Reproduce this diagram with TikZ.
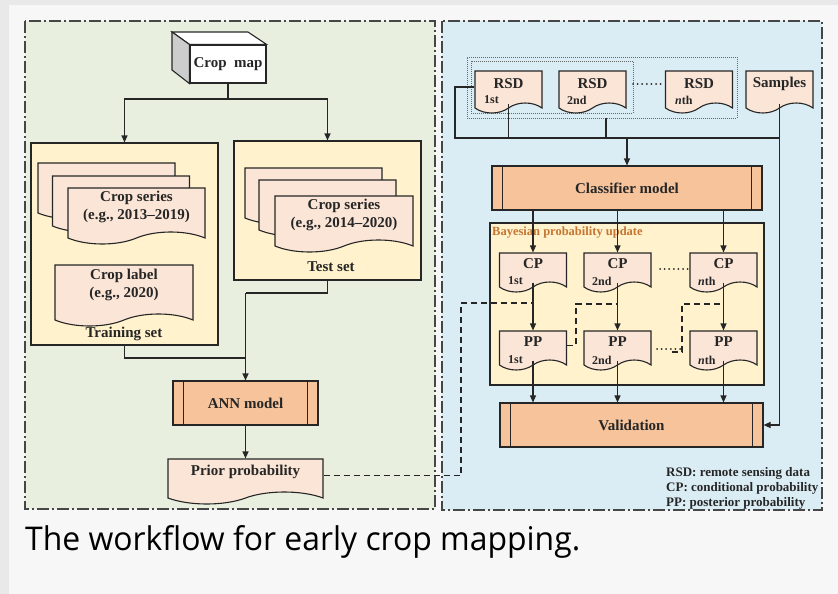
\documentclass[tikz,border=0pt]{standalone}
\usepackage{fontspec}
\usepackage{graphicx}
\setmainfont{Liberation Serif}
\newfontfamily\capfont{Open Sans}
\usetikzlibrary{arrows.meta,shapes.symbols,calc}

\definecolor{pagegray}{RGB}{233,233,233}
\definecolor{cardgray}{RGB}{247,247,247}
\definecolor{greenbg}{RGB}{233,239,223}
\definecolor{bluebg}{RGB}{219,237,244}
\definecolor{setfill}{RGB}{255,242,204}
\definecolor{docfill}{RGB}{251,229,214}
\definecolor{modelfill}{RGB}{246,195,155}
\definecolor{ink}{RGB}{38,38,38}
\definecolor{framegray}{RGB}{70,70,70}
\definecolor{bayescol}{RGB}{196,118,50}
\definecolor{sidegray}{RGB}{205,205,205}

\tikzset{
  every node/.style={font=\bfseries\fontsize{15}{18}\selectfont, text=ink},
  panel/.style={draw=framegray, line width=1.8pt, dash pattern=on 12pt off 3pt on 2pt off 3pt},
  setbox/.style={draw=ink, line width=1.1pt, fill=setfill},
  doc/.style={shape=tape, tape bend top=none, tape bend bottom=in and out,
    tape bend height=12pt, draw=ink, line width=1.1pt, fill=docfill, inner sep=2pt},
  smalldoc/.style={doc, minimum width=67pt, minimum height=42pt, tape bend height=10pt},
  probdoc/.style={doc, minimum width=67pt, minimum height=39pt, tape bend height=10pt, text depth=8pt},
  model/.style={draw=ink, line width=1.1pt, fill=modelfill, minimum height=44pt},
  wire/.style={draw=ink, line width=1.1pt},
  arr/.style={wire, -{Triangle[length=7pt,width=6pt]}},
  dashwire/.style={draw=ink, line width=1.1pt, dash pattern=on 6pt off 4pt},
  dotbox/.style={draw=ink!70, line width=0.8pt, dash pattern=on 1pt off 1pt},
  dotrow/.style={draw=ink, line width=2pt, line cap=round, dash pattern=on 0pt off 4.6pt},
  ordinal/.style={font=\bfseries\fontsize{12}{13}\selectfont, inner sep=0pt, anchor=west},
  legendline/.style={font=\bfseries\fontsize{13}{15}\selectfont, inner sep=0pt, anchor=base west},
}
% inner vertical bars of a predefined-process box
\newcommand\sidebars[2]{%
  \draw[wire] ([xshift=#2]#1.north west) -- ([xshift=#2]#1.south west);
  \draw[wire] ([xshift=-#2]#1.north east) -- ([xshift=-#2]#1.south east);}

\begin{document}
\begin{tikzpicture}[x=1pt,y=-1pt]
% page and card
\fill[pagegray] (0,0) rectangle (838,594);
\fill[cardgray] (9,5) rectangle (838,594);

% the two stages
\draw[panel, fill=greenbg] (25,21) rectangle (435,509);
\draw[panel, fill=bluebg] (442,21) rectangle (822,510);

% ---------- left stage: prior probability ----------
\node[draw=ink, line width=1.1pt, fill=white, minimum width=76pt, minimum height=38pt,
      inner sep=0pt] (cropmap) at (228,64) {Crop\ \ map};
\draw[wire, fill=white] (172,32) -- (248,32) -- (cropmap.north east) -- (cropmap.north west) -- cycle;
\draw[wire, fill=sidegray] (172,32) -- (cropmap.north west) -- (cropmap.south west) -- (172,70) -- cycle;

\node[setbox, minimum width=187pt, minimum height=202pt] (trainbox) at (124.5,244) {};
\node[setbox, minimum width=187pt, minimum height=139pt] (testbox) at (327.5,210.5) {};

\node[doc, minimum width=137pt, minimum height=56pt] (trA) at (106.5,185) {};
\node[doc, minimum width=137pt, minimum height=56pt] (trB) at (121,198) {};
\node[doc, minimum width=137pt, minimum height=56pt, align=center, text depth=9pt] (trC)
  at (136.5,210) {Crop series\\(e.g., 2013--2019)};
\node[doc, minimum width=138pt, minimum height=61pt, align=center, text depth=13pt] (croplabel)
  at (124,289.5) {Crop label\\(e.g., 2020)};
\node (trainname) at (124,334) {Training set};

\node[doc, minimum width=137pt, minimum height=56pt] (teA) at (313.5,190) {};
\node[doc, minimum width=137pt, minimum height=56pt] (teB) at (327.5,202) {};
\node[doc, minimum width=138pt, minimum height=56pt, align=center, text depth=9pt] (teC)
  at (344,218) {Crop series\\(e.g., 2014--2020)};
\node (testname) at (331,267) {Test set};

\coordinate (split) at (228,99);
\draw[wire] (cropmap.south) -- (split);
\draw[arr] (split) -| (trainbox.north);
\draw[arr] (split) -| (testbox.north);

\node[model, minimum width=145pt] (ann) at (245.5,403) {ANN model};
\sidebars{ann}{11pt}
\node[doc, minimum width=155pt, minimum height=45pt, text depth=10pt] (prior) at (245.5,475.5)
  {Prior probability};

\coordinate (joinT) at (245.5,293);
\coordinate (joinB) at (245.5,358);
\draw[wire] (testbox.south) |- (joinT);
\draw[wire] (trainbox.south) |- (joinB);
\draw[arr] (joinT) -- (ann.north);
\draw[arr] (ann.south) -- (prior.north);

% ---------- right stage: classification and update ----------
\node[dotbox, minimum width=270pt, minimum height=61pt] (rsdall) at (602,87.5) {};
\node[dotbox, minimum width=162pt, minimum height=52pt] (rsdpair) at (552,87) {};

\node[smalldoc, text depth=6pt] (rsd1) at (508.5,87) {RSD};
\node[smalldoc, text depth=6pt] (rsd2) at (592.5,87) {RSD};
\node[smalldoc, text depth=6pt] (rsdn) at (699,87) {RSD};
\node[smalldoc, text depth=9pt] (samples) at (779.5,87) {Samples};
\node[ordinal] (rsd1n) at (484,100) {1st};
\node[ordinal] (rsd2n) at (567,100) {2nd};
\node[ordinal] (rsdnn) at (675,100) {{\itshape n}th};
\draw[dotrow] (633,84) -- (662,84);

\node[model, minimum width=270pt] (classifier) at (627,188) {Classifier model};
\sidebars{classifier}{11pt}

\coordinate (busL) at (455,138);
\coordinate (busR) at (779.5,138);
\coordinate (r2tap) at (606,118);
\draw[wire] (rsd1.west) -| (busL) -- (busR);
\draw[wire] (rsd1.south) -- (rsd1.south |- busL);
\draw[wire] (r2tap) -- (r2tap |- busL);
\draw[arr] (classifier.north |- busL) -- (classifier.north);

\node[setbox, minimum width=274pt, minimum height=162pt] (bayes) at (627,304) {};
\node[anchor=west, text=bayescol, font=\bfseries\fontsize{12.5}{14}\selectfont, inner sep=0pt]
  (bayestitle) at (492,233) {Bayesian probability update};

\node[probdoc] (cp1) at (533,267.5) {CP};
\node[probdoc] (cp2) at (617.5,267.5) {CP};
\node[probdoc] (cpn) at (723.5,267.5) {CP};
\node[probdoc] (pp1) at (533,345.5) {PP};
\node[probdoc] (pp2) at (617.5,345.5) {PP};
\node[probdoc] (ppn) at (723.5,345.5) {PP};
\node[ordinal] (cp1n) at (508,281) {1st};
\node[ordinal] (cp2n) at (592,281) {2nd};
\node[ordinal] (cpnn) at (698,281) {{\itshape n}th};
\node[ordinal] (pp1n) at (508,360) {1st};
\node[ordinal] (pp2n) at (592,360) {2nd};
\node[ordinal] (ppnn) at (698,360) {{\itshape n}th};
\draw[dotrow] (660,269) -- (688,269);
\draw[dotrow] (657,349) -- (681,349);

\node[model, minimum width=263pt] (valid) at (631.5,425) {Validation};
\sidebars{valid}{11pt}

\foreach \k in {1,2,n}{
  \draw[arr] (classifier.south -| cp\k.north) -- (cp\k.north);
  \draw[arr] (cp\k.south) -- (pp\k.north);
  \draw[arr] (pp\k.south) -- (pp\k.south |- valid.north);
}
\draw[arr] (samples.south) |- (valid.east);

% prior and posterior feedback
\coordinate (dA) at (461,303);
\coordinate (dB) at (576,304);
\coordinate (dC0) at (672,352);
\coordinate (dC) at (682,304);
\draw[dashwire] (prior.east) -| (dA) -- (dA -| cp1.south);
\draw[dashwire] (pp1.east) -| (dB) -- (dB -| cp2.south);
\draw[dashwire] (dC0) -| (dC) -- (dC -| cpn.south);

% legend
\node[legendline] (leg1) at (666,476) {RSD: remote sensing data};
\node[legendline] (leg2) at (666,491) {CP: conditional probability};
\node[legendline] (leg3) at (666,506) {PP: posterior probability};

% caption
\node[anchor=base west, inner sep=0pt, text=black] (caption) at (25,550)
  {\resizebox{555pt}{25pt}{\capfont\mdseries The workflow for early crop mapping.}};
\end{tikzpicture}
\end{document}
